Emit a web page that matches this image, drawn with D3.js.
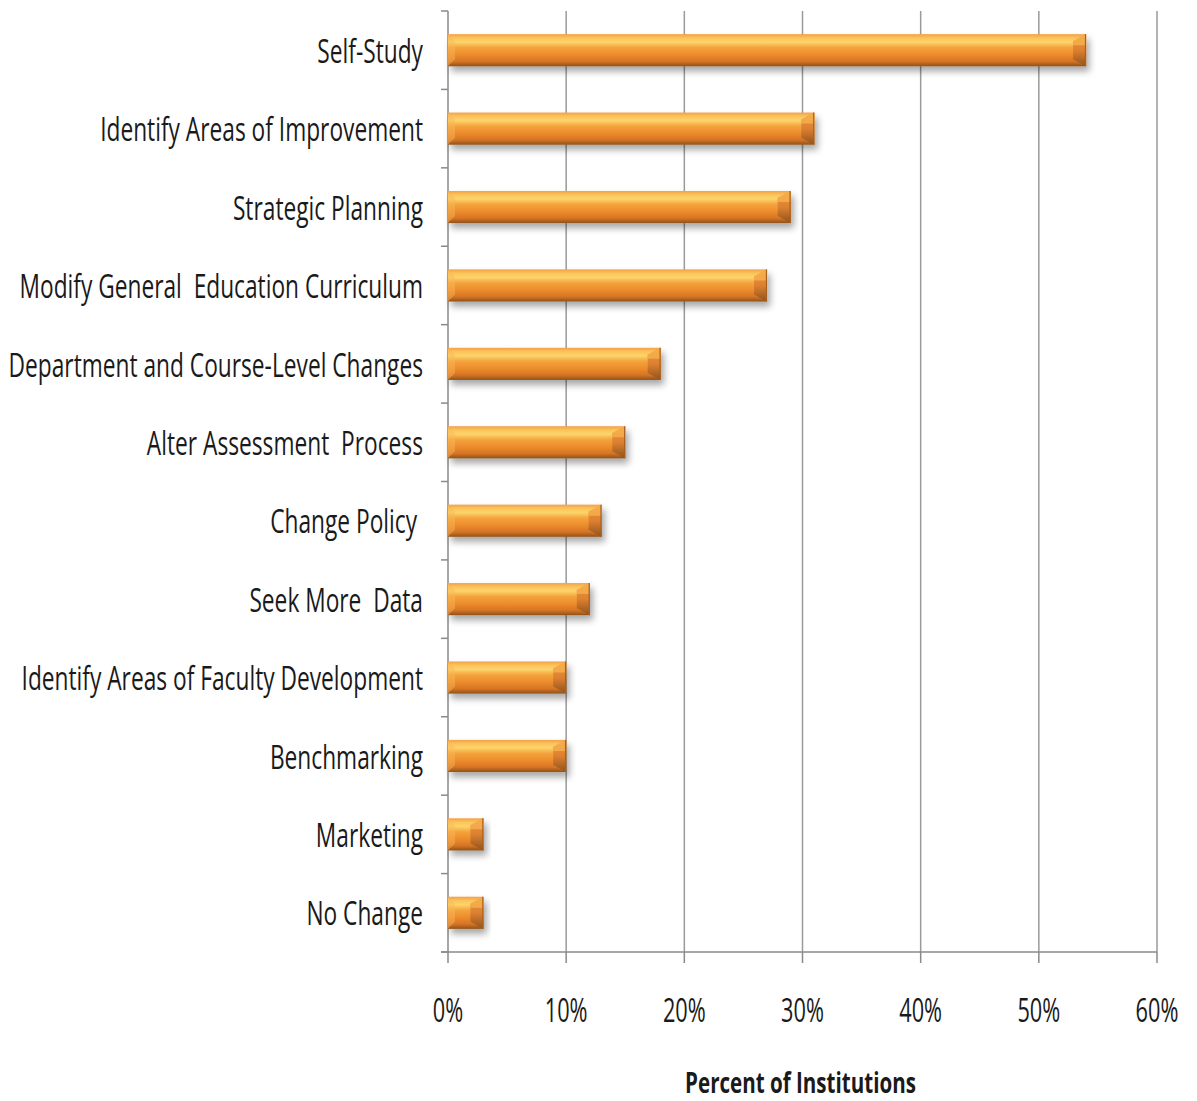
<!DOCTYPE html>
<html>
<head>
<meta charset="utf-8">
<script src="https://cdn.jsdelivr.net/npm/d3@7"></script>
<style>
  html, body { margin: 0; padding: 0; background: #ffffff; }
  svg { display: block; }
  text { font-family: "Open Sans", "Liberation Sans", sans-serif; fill: #1a1a1a; }
</style>
</head>
<body>
<svg id="chart" width="1197" height="1101"></svg>
<script>
// Uses of assessment results, share of institutions
const categories = [
  "Self-Study",
  "Identify Areas of Improvement",
  "Strategic Planning",
  "Modify General  Education Curriculum",
  "Department and Course-Level Changes",
  "Alter Assessment  Process",
  "Change Policy ",
  "Seek More  Data",
  "Identify Areas of Faculty Development",
  "Benchmarking",
  "Marketing",
  "No Change"
];
const values = [54, 31, 29, 27, 18, 15, 13, 12, 10, 10, 3, 3];
const xTicks = [0, 10, 20, 30, 40, 50, 60];
const xTitle = "Percent of Institutions";

const svg = d3.select("#chart");
const margin = { top: 11, right: 40, bottom: 149, left: 448 };
const width = 1197, height = 1101;
const plotW = width - margin.left - margin.right;
const plotH = height - margin.top - margin.bottom;

const x = d3.scaleLinear().domain([0, 60]).range([0, plotW]);
const y = d3.scaleBand().domain(categories).range([0, plotH]).paddingInner(0.59).paddingOuter(0.295);

const defs = svg.append("defs");
const grad = defs.append("linearGradient").attr("id", "barGrad")
  .attr("x1", 0).attr("y1", 0).attr("x2", 0).attr("y2", 1);
[[0, "#f3a049"], [0.12, "#fbc45a"], [0.25, "#fdd46b"], [0.42, "#f4a33c"],
 [0.65, "#ec8b2c"], [0.85, "#d67424"], [1, "#8e521c"]]
  .forEach(([o, c]) => grad.append("stop").attr("offset", o).attr("stop-color", c));

const capGrad = defs.append("linearGradient").attr("id", "capGrad")
  .attr("x1", 0).attr("y1", 0).attr("x2", 0).attr("y2", 1);
[[0, "#e99a40"], [0.5, "#dd8030"], [1, "#8f531c"]]
  .forEach(([o, c]) => capGrad.append("stop").attr("offset", o).attr("stop-color", c));

const shadow = defs.append("filter").attr("id", "shadow")
  .attr("x", "-10%").attr("y", "-30%").attr("width", "130%").attr("height", "180%");
shadow.append("feGaussianBlur").attr("in", "SourceAlpha").attr("stdDeviation", 3.5);
shadow.append("feOffset").attr("dx", 3).attr("dy", 5).attr("result", "blur");
shadow.append("feComponentTransfer").append("feFuncA").attr("type", "linear").attr("slope", 0.35);
const merge = shadow.append("feMerge");
merge.append("feMergeNode");
merge.append("feMergeNode").attr("in", "SourceGraphic");

const g = svg.append("g").attr("transform", `translate(${margin.left},${margin.top})`);

// vertical gridlines
g.append("g").selectAll("line").data(xTicks.slice(1)).join("line")
  .attr("x1", d => x(d)).attr("x2", d => x(d))
  .attr("y1", 0).attr("y2", plotH)
  .attr("stroke", "#9a9a9a").attr("stroke-width", 1.5);

// category axis (ticks between bands)
const bandStep = y.step();
const yAxis = g.append("g");
yAxis.append("line").attr("x1", 0).attr("x2", 0).attr("y1", 0).attr("y2", plotH)
  .attr("stroke", "#8a8a8a").attr("stroke-width", 1.5);
yAxis.selectAll("line.tick").data(d3.range(categories.length + 1)).join("line")
  .attr("class", "tick")
  .attr("x1", -7).attr("x2", 0)
  .attr("y1", i => y(categories[0]) - y.step() * y.paddingOuter() + i * bandStep)
  .attr("y2", i => y(categories[0]) - y.step() * y.paddingOuter() + i * bandStep)
  .attr("stroke", "#8a8a8a").attr("stroke-width", 1.5);

const labelScale = 0.71;
yAxis.selectAll("text").data(categories).join("text")
  .attr("transform", d => `translate(-25,${y(d) + y.bandwidth() / 2}) scale(${labelScale},1)`)
  .attr("text-anchor", "end").attr("dominant-baseline", "central")
  .style("font-size", "32px")
  .style("white-space", "pre")
  .text(d => d);

// value axis
const xAxis = g.append("g").attr("transform", `translate(0,${plotH})`);
xAxis.append("line").attr("x1", -7).attr("x2", plotW).attr("stroke", "#8a8a8a").attr("stroke-width", 1.5);
xAxis.selectAll("line.tick").data(xTicks).join("line").attr("class", "tick")
  .attr("x1", d => x(d)).attr("x2", d => x(d)).attr("y1", 0).attr("y2", 11)
  .attr("stroke", "#8a8a8a").attr("stroke-width", 1.5);
xAxis.selectAll("text").data(xTicks).join("text")
  .attr("transform", d => `translate(${x(d)},${58}) scale(0.68,1)`)
  .attr("text-anchor", "middle").attr("dominant-baseline", "central")
  .style("font-size", "32px")
  .text(d => d + "%");

g.append("text")
  .attr("transform", `translate(${plotW * 0.5 - 2},${plotH + 129}) scale(0.71,1)`)
  .attr("text-anchor", "middle").attr("dominant-baseline", "central")
  .style("font-size", "29px").style("font-weight", "bold")
  .text(xTitle);

// bars with bevelled ends
const bars = g.append("g").selectAll("g.bar").data(categories).join("g")
  .attr("class", "bar")
  .attr("transform", d => `translate(0,${y(d)})`)
  .attr("filter", "url(#shadow)");
const bh = y.bandwidth();
const bev = 7;
bars.append("rect")
  .attr("x", 0).attr("y", 0)
  .attr("width", (d, i) => x(values[i]))
  .attr("height", bh)
  .attr("fill", "url(#barGrad)");
// right end cap: darker face with a light upper bevel
bars.append("path")
  .attr("d", (d, i) => {
    const w = x(values[i]);
    return `M${w - 13},${bev} L${w},0 L${w},${bh} L${w - 13},${bh - bev} Z`;
  })
  .attr("fill", "url(#capGrad)");
bars.append("path")
  .attr("d", (d, i) => {
    const w = x(values[i]);
    return `M${w - 13},${bev} L${w},0 L${w},${bev + 4} L${w - 13},${bev + 4} Z`;
  })
  .attr("fill", "#f7b04e").attr("opacity", 0.8);
bars.append("line")
  .attr("x1", (d, i) => x(values[i]) - 0.6).attr("x2", (d, i) => x(values[i]) - 0.6)
  .attr("y1", 0).attr("y2", bh)
  .attr("stroke", "#a9601f").attr("stroke-width", 1.2);
// left end highlight
bars.append("path")
  .attr("d", () => `M0,0 L${bev},${bev} L${bev},${bh - bev} L0,${bh} Z`)
  .attr("fill", "#f8b95a").attr("opacity", 0.45);
</script>
</body>
</html>
